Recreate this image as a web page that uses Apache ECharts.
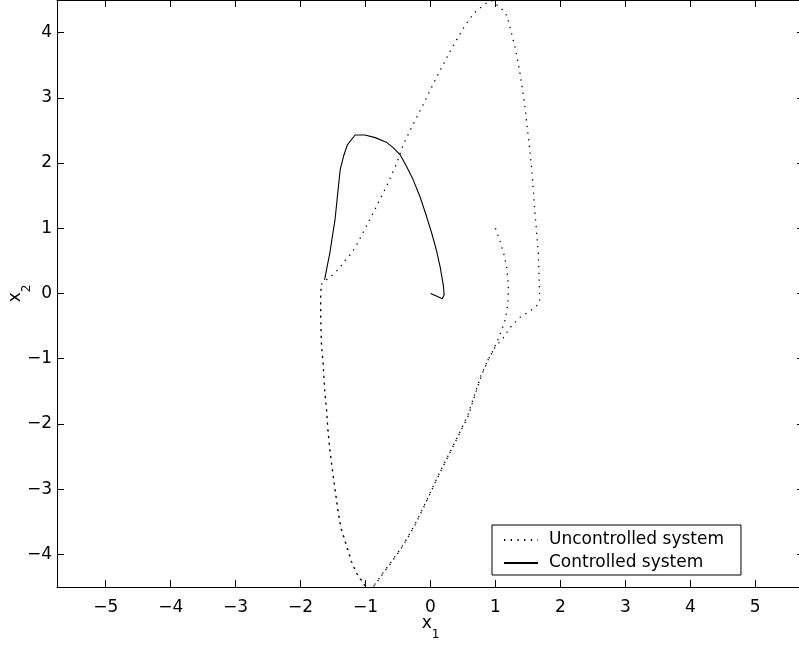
<!DOCTYPE html>
<html>
<head>
<meta charset="utf-8">
<script src="https://cdn.jsdelivr.net/npm/echarts@6/dist/echarts.min.js"></script>
<style>
  html, body { margin: 0; padding: 0; background: #fff; }
  #chart { width: 799px; height: 647px; }
</style>
</head>
<body>
<div id="chart"></div>
<script>
// Phase-plane trajectories (x1, x2)
var xTicks = [-5, -4, -3, -2, -1, 0, 1, 2, 3, 4, 5];
var yTicks = [-4, -3, -2, -1, 0, 1, 2, 3, 4];

// Free-running system: starts at (1, 1) and settles onto its limit cycle
var uncontrolled = [
  [1.00, 1.00], [1.07, 0.80], [1.13, 0.60], [1.17, 0.42], [1.19, 0.22], [1.20, 0.06],
  [1.19, -0.17], [1.15, -0.40], [1.10, -0.55], [1.04, -0.70], [0.96, -0.88],
  [0.88, -1.03], [0.78, -1.25], [0.68, -1.55], [0.58, -1.85], [0.48, -2.07],
  [0.37, -2.29], [0.27, -2.49], [0.14, -2.75], [0.02, -3.00], [-0.11, -3.28],
  [-0.24, -3.54], [-0.37, -3.77], [-0.50, -3.97], [-0.63, -4.15], [-0.75, -4.31],
  [-0.85, -4.45], [-0.92, -4.53], [-0.99, -4.50], [-1.06, -4.40], [-1.14, -4.28],
  [-1.22, -4.10], [-1.29, -3.87], [-1.37, -3.62], [-1.42, -3.36], [-1.47, -3.00],
  [-1.51, -2.70], [-1.55, -2.39], [-1.58, -2.08], [-1.60, -1.78], [-1.63, -1.47],
  [-1.65, -1.11], [-1.68, -0.76], [-1.69, -0.35], [-1.69, 0.00], [-1.68, 0.14],
  [-1.60, 0.21], [-1.50, 0.29], [-1.40, 0.39], [-1.32, 0.50], [-1.24, 0.59],
  [-1.16, 0.70], [-1.04, 0.93], [-0.91, 1.18], [-0.78, 1.44], [-0.65, 1.70],
  [-0.52, 2.00], [-0.42, 2.28], [-0.27, 2.59], [-0.11, 2.90], [0.09, 3.31],
  [0.30, 3.71], [0.42, 3.92], [0.53, 4.11], [0.67, 4.30], [0.84, 4.44],
  [0.94, 4.49], [1.04, 4.41], [1.12, 4.34], [1.18, 4.25], [1.24, 4.02],
  [1.31, 3.74], [1.38, 3.36], [1.45, 2.90], [1.51, 2.36], [1.55, 2.00],
  [1.58, 1.64], [1.60, 1.34], [1.63, 0.98], [1.66, 0.62], [1.67, 0.27],
  [1.68, -0.04], [1.68, -0.14], [1.60, -0.22], [1.48, -0.30], [1.37, -0.37],
  [1.22, -0.53], [1.12, -0.68], [0.99, -0.83], [0.89, -1.01], [0.78, -1.27],
  [0.68, -1.57], [0.58, -1.88], [0.48, -2.08], [0.37, -2.30], [0.27, -2.50],
  [0.14, -2.76], [0.02, -3.01], [-0.11, -3.29], [-0.24, -3.55], [-0.37, -3.78],
  [-0.50, -3.98], [-0.63, -4.16], [-0.75, -4.32], [-0.85, -4.46], [-0.92, -4.54],
  [-0.99, -4.51], [-1.06, -4.41], [-1.14, -4.29], [-1.22, -4.11], [-1.29, -3.88],
  [-1.37, -3.63], [-1.42, -3.37], [-1.47, -3.01], [-1.51, -2.71], [-1.55, -2.40],
  [-1.58, -2.09], [-1.60, -1.79], [-1.63, -1.48], [-1.65, -1.12], [-1.68, -0.77],
  [-1.69, -0.36], [-1.69, 0.00], [-1.68, 0.14]
];

// Closed-loop response once the controller is switched on
var controlled = [
  [-1.63, 0.21], [-1.59, 0.42], [-1.55, 0.62], [-1.51, 0.88], [-1.47, 1.13],
  [-1.43, 1.52], [-1.39, 1.90], [-1.34, 2.10], [-1.28, 2.28], [-1.16, 2.43],
  [-1.01, 2.43], [-0.85, 2.39], [-0.68, 2.32], [-0.58, 2.24], [-0.47, 2.13],
  [-0.37, 1.95], [-0.27, 1.75], [-0.16, 1.48], [-0.06, 1.18], [0.02, 0.92],
  [0.09, 0.67], [0.15, 0.40], [0.20, 0.11], [0.21, -0.02], [0.18, -0.08],
  [0.09, -0.04], [0.00, 0.00]
];

var FONT = 'DejaVu Sans';
var chart = echarts.init(document.getElementById('chart'), null, { renderer: 'canvas' });

function minusSign(v) { return String(v).replace('-', '\u2212'); }

function axisBase(extra) {
  var base = {
    type: 'value',
    axisLine: { show: true, onZero: false, lineStyle: { color: '#000', width: 1 } },
    splitLine: { show: false },
    axisLabel: { show: false }
  };
  return Object.assign(base, extra);
}

var subRich = {
  b: { fontSize: 17, fontFamily: FONT, lineHeight: 26, verticalAlign: 'top', color: '#000' },
  s: { fontSize: 12, fontFamily: FONT, lineHeight: 12, verticalAlign: 'bottom', color: '#000' }
};

var option = {
  backgroundColor: '#fff',
  animation: false,
  textStyle: { fontFamily: FONT },
  grid: { left: 57, top: 0, width: 747, height: 587, containLabel: false, outerBoundsMode: 'none' },
  xAxis: [
    axisBase({
      min: -5.75, max: 5.75, position: 'bottom',
      axisTick: { show: true, inside: true, length: 7, customValues: xTicks, lineStyle: { color: '#000' } },
      axisLabel: { show: true, customValues: xTicks,
        margin: 12, color: '#000', fontFamily: FONT, fontSize: 17, formatter: minusSign },
      name: '{b|x}{s|1}', nameLocation: 'middle', nameGap: 28, nameMoveOverlap: false,
      nameTextStyle: { color: '#000', fontFamily: FONT, rich: subRich }
    }),
    axisBase({
      min: -5.75, max: 5.75, position: 'top',
      axisTick: { show: true, inside: true, length: 7, customValues: xTicks, lineStyle: { color: '#000' } }
    })
  ],
  yAxis: [
    axisBase({
      min: -4.5, max: 4.5, position: 'left',
      axisTick: { show: true, inside: true, length: 7, customValues: yTicks, lineStyle: { color: '#000' } },
      axisLabel: { show: true, customValues: yTicks,
        margin: 5, color: '#000', fontFamily: FONT, fontSize: 17, formatter: minusSign },
      name: '{b|x}{s|2}', nameLocation: 'middle', nameGap: 24, nameRotate: 90, nameMoveOverlap: false,
      nameTextStyle: { color: '#000', fontFamily: FONT, rich: subRich }
    }),
    axisBase({
      min: -4.5, max: 4.5, position: 'right',
      axisTick: { show: true, inside: true, length: 7, customValues: yTicks, lineStyle: { color: '#000' } }
    })
  ],
  legend: {
    show: true,
    orient: 'vertical',
    left: 492, top: 525,
    padding: [5, 17, 2, 11],
    itemGap: 3,
    itemWidth: 34, itemHeight: 14,
    backgroundColor: '#fff',
    borderColor: '#000', borderWidth: 1, borderRadius: 0,
    itemStyle: { color: 'transparent', borderWidth: 0, opacity: 0 },
    textStyle: { color: '#000', fontFamily: FONT, fontSize: 17, lineHeight: 20, padding: [0, 0, 0, 6] },
    data: ['Uncontrolled system', 'Controlled system']
  },
  series: [
    {
      name: 'Uncontrolled system', type: 'line', xAxisIndex: 0, yAxisIndex: 0,
      data: uncontrolled, showSymbol: false, symbol: 'none', smooth: false, clip: true,
      lineStyle: { color: '#000', width: 1.3, type: [1.3, 5.4] },
      itemStyle: { color: '#000' }
    },
    {
      name: 'Controlled system', type: 'line', xAxisIndex: 0, yAxisIndex: 0,
      data: controlled, showSymbol: false, symbol: 'none', smooth: false, clip: true,
      lineStyle: { color: '#000', width: 1.1, type: 'solid' },
      itemStyle: { color: '#000' }
    }
  ]
};
chart.setOption(option);
</script>
</body>
</html>
